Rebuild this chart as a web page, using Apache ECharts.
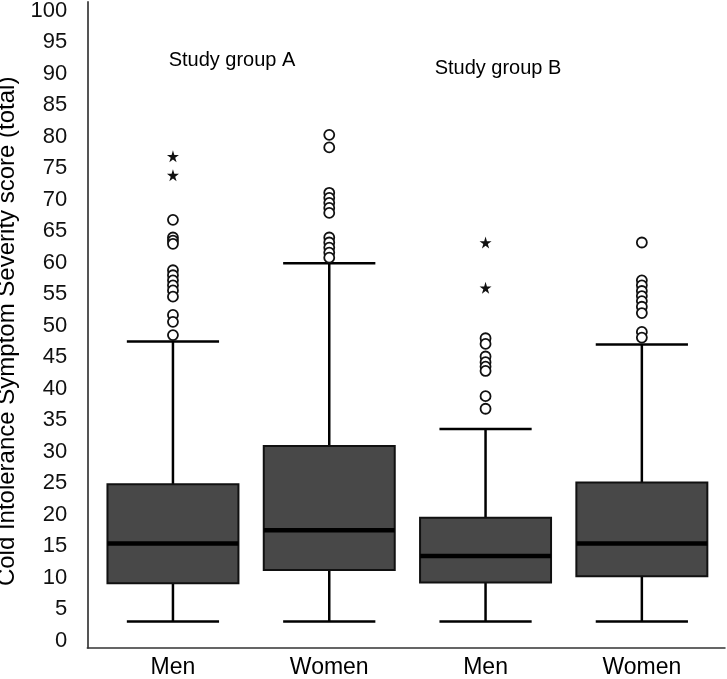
<!DOCTYPE html>
<html>
<head>
<meta charset="utf-8">
<script src="https://cdn.jsdelivr.net/npm/echarts@6/dist/echarts.min.js"></script>
<style>
html,body{margin:0;padding:0;background:#fff;}
#chart{width:727px;height:679px;}
</style>
</head>
<body>
<div id="chart"></div>
<script>
// ---- data ----
const categories = ['Men', 'Women', 'Men', 'Women'];
const groupLabels = ['Study group A', 'Study group B'];
const yTicks = [0,5,10,15,20,25,30,35,40,45,50,55,60,65,70,75,80,85,90,95,100];
const whiskerLow  = [3, 3, 3, 3];
const q1          = [9.1, 11.2, 9.2, 10.2];
const median      = [15.4, 17.5, 13.4, 15.4];
const q3          = [24.8, 30.9, 19.5, 25.1];
const whiskerHigh = [47.5, 59.9, 33.6, 47.0];
const outlierCircles = [
  [66.8, 64.0, 63.5, 63.0, 58.8, 58.0, 57.2, 56.4, 55.6, 54.6, 51.7, 50.6, 48.5],
  [80.3, 78.3, 71.1, 70.3, 69.5, 68.7, 67.9, 64.0, 63.2, 62.4, 61.6, 60.8],
  [48.0, 47.1, 45.1, 44.2, 43.5, 42.8, 38.8, 36.8],
  [63.2, 57.2, 56.4, 55.5, 54.7, 53.9, 53.0, 52.0, 49.0, 48.1]
];
const outlierStars = [
  [76.9, 73.9],
  [],
  [63.2, 56.0],
  []
];

// ---- build ----
const boxData = categories.map((c, i) => [i, whiskerLow[i], q1[i], median[i], q3[i], whiskerHigh[i]]);
const circleData = [];
outlierCircles.forEach((arr, i) => arr.forEach(v => circleData.push([i, v])));
const starData = [];
outlierStars.forEach((arr, i) => arr.forEach(v => starData.push([i, v])));

const FONT = '"Liberation Sans", Arial, sans-serif';
const YMIN = -1.15, YMAX = 101.4;
const STAR = 'path://M50,0 L61,35 L98,35 L68,57 L79,91 L50,70 L21,91 L32,57 L2,35 L39,35 Z';

const chart = echarts.init(document.getElementById('chart'), null, {renderer: 'canvas'});

const option = {
  animation: false,
  backgroundColor: '#ffffff',
  grid: [
    {left: 87.3, right: 2, top: 2, bottom: 31.3, outerBoundsMode: 'none', containLabel: false},
    {left: 94.8, right: 7, top: 2, bottom: 31.3, outerBoundsMode: 'none', containLabel: false}
  ],
  xAxis: [
    {
      gridIndex: 0, type: 'value', min: 0, max: 1,
      axisLine: {show: true, onZero: false, lineStyle: {color: '#333', width: 1.5}},
      axisTick: {show: false}, axisLabel: {show: false}, splitLine: {show: false}
    },
    {
      gridIndex: 1, type: 'category', data: categories,
      axisLine: {show: false}, axisTick: {show: false}, splitLine: {show: false},
      axisLabel: {margin: 8, fontSize: 23, color: '#000', fontFamily: FONT}
    }
  ],
  yAxis: [
    {
      gridIndex: 0, type: 'value', min: YMIN, max: YMAX,
      name: 'Cold Intolerance Symptom Severity score (total)',
      nameLocation: 'middle', nameGap: 59,
      nameTextStyle: {fontSize: 24, color: '#000', fontFamily: FONT, padding: [0, 13, 0, 0]},
      axisLine: {show: true, onZero: false, lineStyle: {color: '#555', width: 2}},
      axisTick: {show: false},
      splitLine: {show: false},
      axisLabel: {customValues: yTicks, margin: 20, fontSize: 22, color: '#111', fontFamily: FONT}
    },
    {
      gridIndex: 1, type: 'value', min: YMIN, max: YMAX, show: false,
      splitLine: {show: false}
    }
  ],
  graphic: [
    {type: 'text', x: 232, y: 60, style: {text: groupLabels[0], fontSize: 20, fontFamily: FONT, fill: '#000', align: 'center', verticalAlign: 'middle'}},
    {type: 'text', x: 498, y: 68, style: {text: groupLabels[1], fontSize: 20, fontFamily: FONT, fill: '#000', align: 'center', verticalAlign: 'middle'}}
  ],
  series: [
    {
      type: 'custom',
      xAxisIndex: 1, yAxisIndex: 1,
      data: boxData,
      encode: {x: 0, y: [1, 2, 3, 4, 5]},
      renderItem: function (params, api) {
        const idx = api.value(0);
        const band = api.size([1, 0])[0];
        const bw = band * 0.838;
        const cw = band * 0.59;
        const pLow = api.coord([idx, api.value(1)]);
        const pQ1 = api.coord([idx, api.value(2)]);
        const pMed = api.coord([idx, api.value(3)]);
        const pQ3 = api.coord([idx, api.value(4)]);
        const pHigh = api.coord([idx, api.value(5)]);
        const cx = pMed[0];
        const lineStyle = {stroke: '#000', lineWidth: 2.5};
        return {
          type: 'group',
          children: [
            {type: 'line', shape: {x1: cx, y1: pHigh[1], x2: cx, y2: pQ3[1]}, style: lineStyle},
            {type: 'line', shape: {x1: cx, y1: pQ1[1], x2: cx, y2: pLow[1]}, style: lineStyle},
            {type: 'line', shape: {x1: cx - cw / 2, y1: pHigh[1], x2: cx + cw / 2, y2: pHigh[1]}, style: lineStyle},
            {type: 'line', shape: {x1: cx - cw / 2, y1: pLow[1], x2: cx + cw / 2, y2: pLow[1]}, style: lineStyle},
            {type: 'rect', shape: {x: cx - bw / 2, y: pQ3[1], width: bw, height: pQ1[1] - pQ3[1]},
              style: {fill: '#484848', stroke: '#111', lineWidth: 2}},
            {type: 'line', shape: {x1: cx - bw / 2, y1: pMed[1], x2: cx + bw / 2, y2: pMed[1]},
              style: {stroke: '#000', lineWidth: 4.5}}
          ]
        };
      }
    },
    {
      type: 'scatter', xAxisIndex: 1, yAxisIndex: 1,
      data: circleData, symbol: 'circle', symbolSize: 10,
      itemStyle: {color: '#fff', borderColor: '#111', borderWidth: 1.8, opacity: 1}
    },
    {
      type: 'scatter', xAxisIndex: 1, yAxisIndex: 1,
      data: starData, symbol: STAR, symbolSize: 12,
      itemStyle: {color: '#111', opacity: 1}
    }
  ]
};
chart.setOption(option);
</script>
</body>
</html>
